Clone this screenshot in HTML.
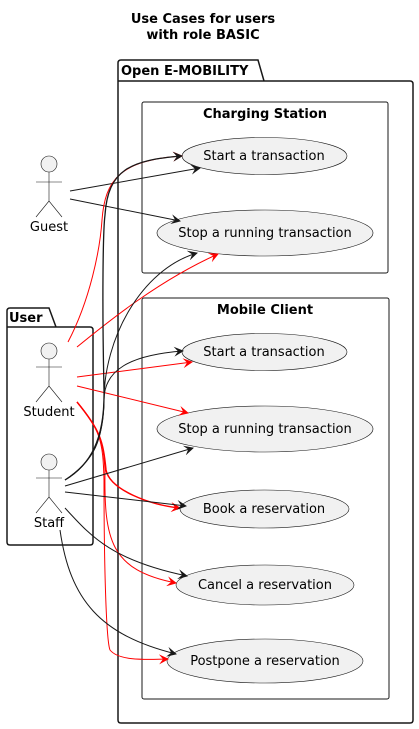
<!DOCTYPE html>
<html><head><meta charset="utf-8"><style>
html,body{margin:0;padding:0;background:#fff;}
svg{display:block;font-family:"DejaVu Sans","Liberation Sans",sans-serif;}
</style></head><body>
<svg width="419" height="729" viewBox="0 0 419 729" xmlns="http://www.w3.org/2000/svg">
<defs>
<marker id="ab" viewBox="0 0 10 10" refX="9" refY="5" markerWidth="10" markerHeight="10" markerUnits="userSpaceOnUse" orient="auto"><path d="M0,0 L10,5 L0,10 L4,5 Z" fill="#181818"/></marker>
<marker id="ar" viewBox="0 0 10 10" refX="9" refY="5" markerWidth="10" markerHeight="10" markerUnits="userSpaceOnUse" orient="auto"><path d="M0,0 L10,5 L0,10 L4,5 Z" fill="#ff0000"/></marker>
</defs>
<text x="203" y="23" font-size="13" font-weight="bold" text-anchor="middle">Use Cases for users</text>
<text x="203" y="39" font-size="13" font-weight="bold" text-anchor="middle">with role BASIC</text>

<path d="M118,81 L118,63 Q118,60 121,60 L258,60 L264,81 L410,81 Q413,81 413,84 L413,720 Q413,723 410,723 L121,723 Q118,723 118,720 Z M118,81 L264,81" fill="none" stroke="#181818" stroke-width="1.5"/>
<text x="121" y="75" font-size="13" font-weight="bold">Open E-MOBILITY</text>

<rect x="142" y="102" width="246" height="171" rx="2" fill="none" stroke="#181818" stroke-width="1"/>
<text x="265" y="118" font-size="13" font-weight="bold" text-anchor="middle">Charging Station</text>
<rect x="142" y="298" width="247" height="401" rx="2" fill="none" stroke="#181818" stroke-width="1"/>
<text x="265" y="314" font-size="13" font-weight="bold" text-anchor="middle">Mobile Client</text>

<path d="M7,327 L7,311 Q7,308 10,308 L49,308 L56,327 L90,327 Q93,327 93,330 L93,542 Q93,545 90,545 L10,545 Q7,545 7,542 Z M7,327 L56,327" fill="none" stroke="#181818" stroke-width="1.5"/>
<text x="9" y="322" font-size="13" font-weight="bold">User</text>

<g fill="#f1f1f1" stroke="#181818" stroke-width="0.6">
<ellipse cx="264.5" cy="156" rx="82.5" ry="18.5"/>
<ellipse cx="265" cy="233" rx="108" ry="23"/>
<ellipse cx="264.5" cy="352" rx="82.5" ry="18.5"/>
<ellipse cx="265" cy="429" rx="108" ry="23"/>
<ellipse cx="264.5" cy="509" rx="84.5" ry="19"/>
<ellipse cx="265" cy="585" rx="89" ry="20"/>
<ellipse cx="265" cy="661" rx="98" ry="22"/>
</g>
<g font-size="13" text-anchor="middle" fill="#000">
<text x="264" y="160">Start a transaction</text>
<text x="265" y="237">Stop a running transaction</text>
<text x="264" y="356">Start a transaction</text>
<text x="265" y="433">Stop a running transaction</text>
<text x="264" y="513">Book a reservation</text>
<text x="265" y="589">Cancel a reservation</text>
<text x="265" y="665">Postpone a reservation</text>
</g>

<g fill="#f1f1f1" stroke="#181818" stroke-width="0.6">
<circle cx="49" cy="164" r="8"/>
<path d="M49,172 V201 M36,182 H62 M36,217 L49,201 L62,217" fill="none"/>
<circle cx="49" cy="351" r="8"/>
<path d="M49,359 V386 M36,367 H62 M36,402 L49,386 L62,402" fill="none"/>
<circle cx="49" cy="462" r="8"/>
<path d="M49,470 V497 M36,478 H62 M36,513 L49,497 L62,513" fill="none"/>
</g>
<g font-size="13" text-anchor="middle">
<text x="49" y="231">Guest</text>
<text x="49" y="416">Student</text>
<text x="49" y="527">Staff</text>
</g>

<g fill="none" stroke-width="1">
<path d="M70,191 L200,168" stroke="#181818" marker-end="url(#ab)"/>
<path d="M70,199 L180,221" stroke="#181818" marker-end="url(#ab)"/>
<path d="M68,342 C90,300 100,250 102,220 C105,180 120,160 182,156" stroke="#ff0000" marker-end="url(#ar)"/>
<path d="M77,347 C110,320 160,280 218,254" stroke="#ff0000" marker-end="url(#ar)"/>
<path d="M77,377 L192,362" stroke="#ff0000" marker-end="url(#ar)"/>
<path d="M77,386 L188,413" stroke="#ff0000" marker-end="url(#ar)"/>
<path d="M77,402 C100,430 103,440 106,470 C110,490 150,505 180,508" stroke="#ff0000" stroke-width="1.5" marker-end="url(#ar)"/>
<path d="M77,402 C100,430 103,440 105,470 C104,540 110,570 176,583" stroke="#ff0000" marker-end="url(#ar)"/>
<path d="M77,402 C100,430 103,440 104,480 C104,560 106,640 110,650 C118,660 140,660 168,659" stroke="#ff0000" marker-end="url(#ar)"/>
<path d="M65,480 C90,465 105,440 104,390 C102,300 103,230 105,215 C108,170 130,160 182,156" stroke="#181818" stroke-width="1.3" marker-end="url(#ab)"/>
<path d="M65,480 C95,460 103,440 104,400 C104,340 140,270 197,253" stroke="#181818" marker-end="url(#ab)"/>
<path d="M65,480 C90,465 104,440 104,400 C104,370 130,355 183,351" stroke="#181818" marker-end="url(#ab)"/>
<path d="M65,486 L193,448" stroke="#181818" marker-end="url(#ab)"/>
<path d="M65,492 L186,506" stroke="#181818" marker-end="url(#ab)"/>
<path d="M65,508 C90,535 110,560 187,576" stroke="#181818" marker-end="url(#ab)"/>
<path d="M60,530 C70,600 100,635 176,654" stroke="#181818" marker-end="url(#ab)"/>
</g>
</svg>
</body></html>
